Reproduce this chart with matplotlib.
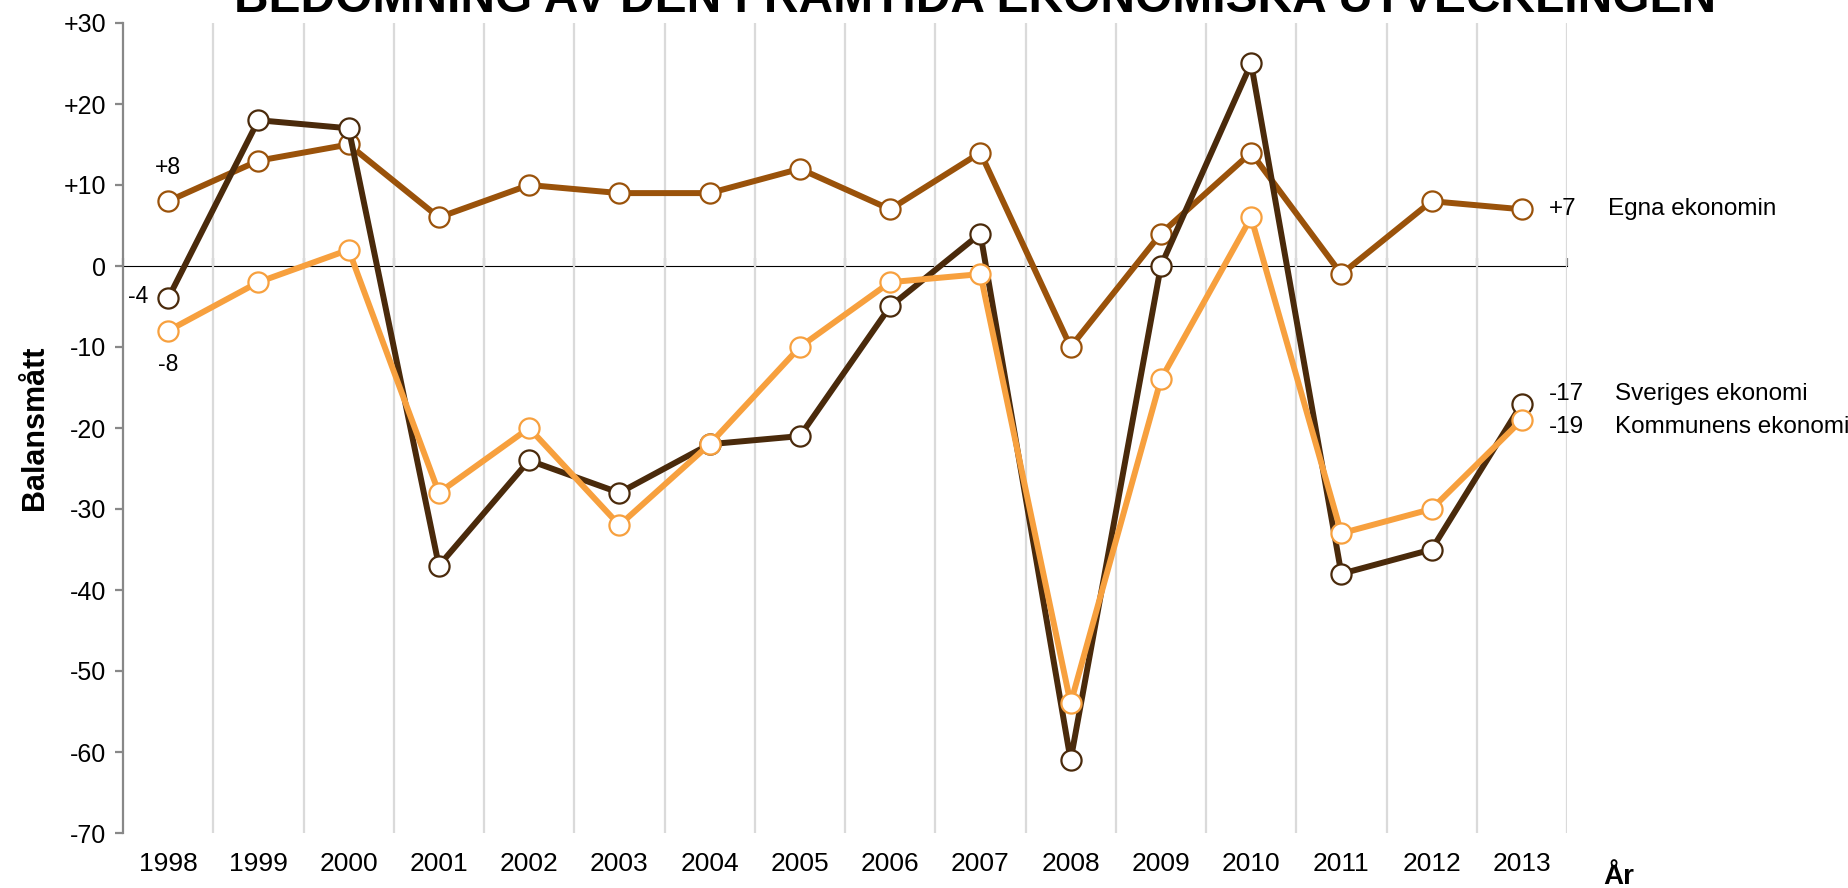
import matplotlib
matplotlib.use("Agg")
import matplotlib.pyplot as plt
from matplotlib.ticker import FuncFormatter, FixedLocator

plt.rcParams['font.family'] = ['Liberation Sans', 'DejaVu Sans']

years = ["1998", "1999", "2000", "2001", "2002", "2003", "2004", "2005",
         "2006", "2007", "2008", "2009", "2010", "2011", "2012", "2013"]
egna = [8, 13, 15, 6, 10, 9, 9, 12, 7, 14, -10, 4, 14, -1, 8, 7]
sveriges = [-4, 18, 17, -37, -24, -28, -22, -21, -5, 4, -61, 0, 25, -38, -35, -17]
kommunens = [-8, -2, 2, -28, -20, -32, -22, -10, -2, -1, -54, -14, 6, -33, -30, -19]
series_names = ["Egna ekonomin", "Sveriges ekonomi", "Kommunens ekonomi"]
title = "BEDÖMNING AV DEN FRAMTIDA EKONOMISKA UTVECKLINGEN"

c_egna = "#9A520A"
c_sver = "#4A2A0B"
c_komm = "#F7A03E"
gray = "#888888"

fig = plt.figure(figsize=(18.48, 8.88), dpi=100)
ax = fig.add_axes([123/1848, 1-833/888, (1567-123)/1848, (833-23)/888])

x = list(range(len(years)))
ax.set_xlim(-0.5, len(years) - 0.5)
ax.set_ylim(-70, 30)

# grid lines at category boundaries
bounds = [i + 0.5 for i in range(len(years))]
ax.xaxis.set_minor_locator(FixedLocator(bounds))
ax.grid(which='minor', axis='x', color='#dadada', linewidth=1.6)
ax.set_axisbelow(True)

for vals, col in [(egna, c_egna), (sveriges, c_sver), (kommunens, c_komm)]:
    ax.plot(x, vals, color=col, linewidth=4.3, marker='o', markersize=14.5,
            markerfacecolor='white', markeredgecolor=col, markeredgewidth=1.6,
            zorder=3)

# axes styling
for s in ['top', 'right', 'bottom']:
    ax.spines[s].set_visible(False)
ax.spines['left'].set_color(gray)
ax.spines['left'].set_linewidth(1.6)
ax.set_yticks(range(-70, 31, 10))
ax.yaxis.set_major_formatter(FuncFormatter(lambda v, p: f"+{int(v)}" if v > 0 else f"{int(v)}"))
ax.tick_params(axis='y', direction='out', length=6, width=1.6, color=gray,
               labelsize=18, pad=6)
ax.set_xticks(x)
ax.set_xticklabels(years)
ax.tick_params(axis='x', which='major', length=0, labelsize=19, pad=14)
ax.tick_params(axis='x', which='minor', length=0)

# zero axis line with boundary ticks
sec = ax.secondary_xaxis(0.7)
sec.set_xticks([-0.5] + bounds)
sec.set_xticklabels([])
sec.tick_params(direction='out', length=6, width=1.6, color=gray)
sec.spines['bottom'].set_color(gray)
sec.spines['bottom'].set_linewidth(1.7)

ax.set_ylabel("Balansmått", fontsize=22, fontweight='bold', labelpad=10)
fig.text(1619/1848, 1-884/888, "År", fontsize=20, fontweight='bold',
         ha='center', va='baseline')
fig.text(975/1848, 1-12/888, title, fontsize=34.5, fontweight='bold',
         ha='center', va='baseline')

# value labels at start
ax.text(0, egna[0] + 4.2, f"+{egna[0]}", fontsize=16.5, ha='center', va='center')
ax.text(-0.22, sveriges[0] + 0.2, f"{sveriges[0]}", fontsize=16.5, ha='right', va='center')
ax.text(0, kommunens[0] - 4.2, f"{kommunens[0]}", fontsize=16.5, ha='center', va='center')

# end labels
last = len(years) - 1
ax.text(last + 0.3, egna[-1], f"+{egna[-1]}", fontsize=17.5, ha='left', va='center', clip_on=False)
ax.text(last + 0.95, egna[-1], series_names[0], fontsize=17.5, ha='left', va='center', clip_on=False)
ax.text(last + 0.3, sveriges[-1] + 1.2, f"{sveriges[-1]}", fontsize=17.5, ha='left', va='center', clip_on=False)
ax.text(last + 1.03, sveriges[-1] + 1.2, series_names[1], fontsize=17.5, ha='left', va='center', clip_on=False)
ax.text(last + 0.3, kommunens[-1] - 0.9, f"{kommunens[-1]}", fontsize=17.5, ha='left', va='center', clip_on=False)
ax.text(last + 1.03, kommunens[-1] - 0.9, series_names[2], fontsize=17.5, ha='left', va='center', clip_on=False)

fig.savefig("out.png", dpi=100)
